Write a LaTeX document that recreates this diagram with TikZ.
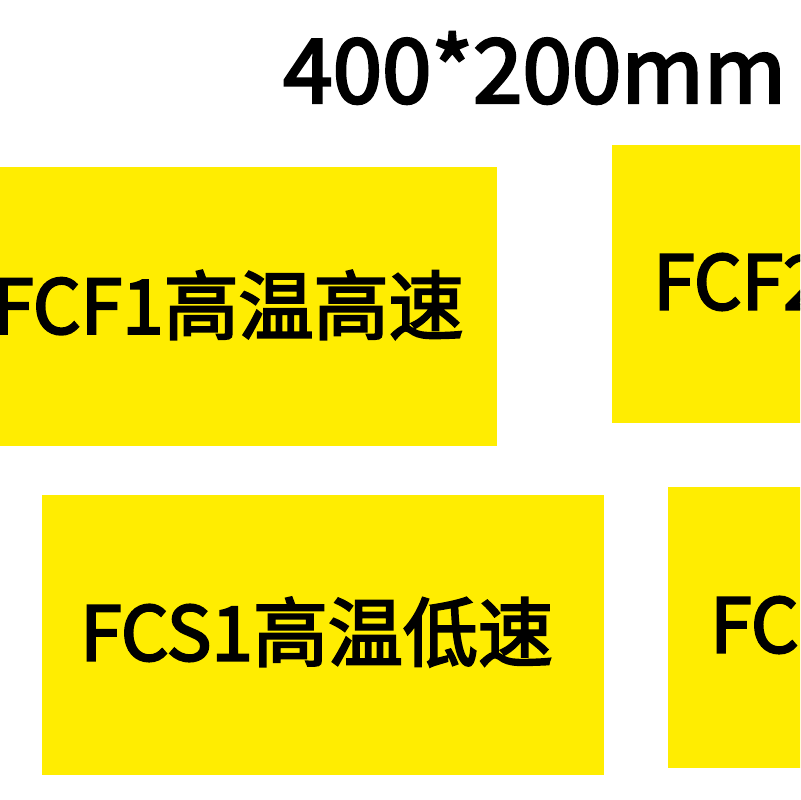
\documentclass[tikz,border=0pt]{standalone}
\usepackage{fontspec}
\setmainfont{Noto Sans CJK SC}[FakeBold=3]
\begin{document}
\begin{tikzpicture}[x=0.3mm,y=-0.3mm,
  card/.style={fill=yellow!95!orange,draw=none},
  lbl/.style={anchor=west,inner sep=0pt,font=\fontsize{64}{64}\selectfont}]
\useasboundingbox (0,0) rectangle (800,800);
\clip (0,0) rectangle (800,800);
\fill[white] (0,0) rectangle (800,800);
\fill[card] (0,167) rectangle (497,446);
\fill[card] (612,145) rectangle (820,423);
\fill[card] (42,495) rectangle (604,775);
\fill[card] (668,487) rectangle (820,768);
\node[lbl,font=\fontsize{76}{76}\selectfont] (t) at (283,68) {400*200mm};
\node[lbl] (a) at (-8,305) {FCF1高温高速};
\node[lbl] (b) at (653,282) {FCF2};
\node[lbl] (c) at (80,632) {FCS1高温低速};
\node[lbl] (d) at (710,625) {FC};
\end{tikzpicture}
\end{document}
